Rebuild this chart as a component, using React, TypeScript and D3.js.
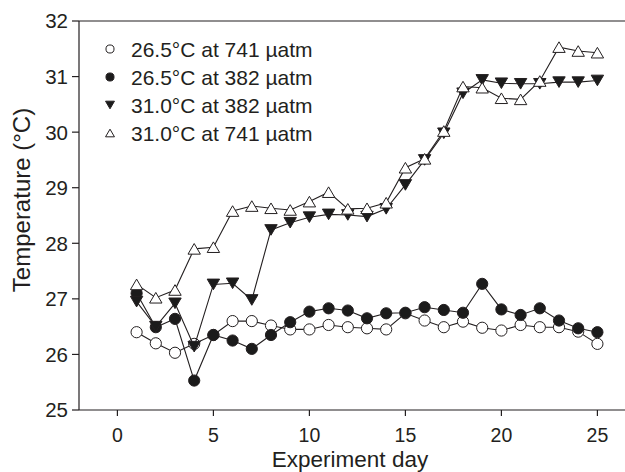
import React from "react";
import * as d3 from "d3";

const days = [1,2,3,4,5,6,7,8,9,10,11,12,13,14,15,16,17,18,19,20,21,22,23,24,25];
const openCircle = [26.40,26.20,26.03,26.19,26.35,26.60,26.60,26.52,26.45,26.45,26.53,26.49,26.47,26.45,26.74,26.61,26.49,26.59,26.48,26.43,26.53,26.49,26.49,26.41,26.19];
const filledCircle = [27.10,26.49,26.64,25.53,26.35,26.25,26.10,26.35,26.58,26.77,26.83,26.79,26.65,26.74,26.75,26.85,26.80,26.75,27.27,26.81,26.71,26.83,26.61,26.47,26.40];
const filledDown = [26.95,26.50,26.92,26.14,27.26,27.28,26.98,28.24,28.37,28.47,28.52,28.51,28.48,28.62,29.05,29.50,29.98,30.70,30.94,30.88,30.87,30.87,30.90,30.90,30.93];
const openUp = [27.26,27.02,27.16,27.90,27.93,28.58,28.67,28.63,28.60,28.75,28.92,28.62,28.63,28.73,29.36,29.52,30.02,30.82,30.80,30.61,30.59,30.92,31.53,31.46,31.43];
const seriesNames = ["26.5°C at 741 µatm","26.5°C at 382 µatm","31.0°C at 382 µatm","31.0°C at 741 µatm"];
const xTicks = [0,5,10,15,20,25];
const yTicks = [25,26,27,28,29,30,31,32];

const W = 625, H = 472;
const x = d3.scaleLinear().domain([-2, 26.5]).range([79, 626.2]);
const y = d3.scaleLinear().domain([25, 32]).range([410, 21]);
const INK = "#231f20";
const FILL = "#1b1b1b";
const FONT = "'Liberation Sans', Arial, Helvetica, sans-serif";

type Kind = "oc" | "fc" | "dn" | "up";

function Marker({ kind, cx, cy, s = 1 }: { kind: Kind; cx: number; cy: number; s?: number }) {
  if (kind === "oc" || kind === "fc") {
    return <circle cx={cx} cy={cy} r={5.6 * s} fill={kind === "fc" ? FILL : "#fff"} stroke={INK} strokeWidth={1} />;
  }
  const hw = 6.2 * s, hh = 5.3 * s;
  const p = kind === "up"
    ? `M${cx},${cy - hh}L${cx + hw},${cy + hh}L${cx - hw},${cy + hh}Z`
    : `M${cx},${cy + hh}L${cx + hw},${cy - hh}L${cx - hw},${cy - hh}Z`;
  return <path d={p} fill={kind === "dn" ? FILL : "#fff"} stroke={INK} strokeWidth={1} />;
}

const series: { kind: Kind; vals: number[] }[] = [
  { kind: "oc", vals: openCircle },
  { kind: "fc", vals: filledCircle },
  { kind: "dn", vals: filledDown },
  { kind: "up", vals: openUp },
];

export default function App() {
  const line = d3.line<number>().x((_, i) => x(days[i])).y((v) => y(v));
  return (
    <svg width={W} height={H} style={{ position: "absolute", left: 0, top: 0, background: "#fff" }} fontFamily={FONT}>
      <rect width={W} height={H} fill="#fff" />
      <line x1={79} x2={W} y1={21} y2={21} stroke={INK} strokeWidth={1.2} />
      <line x1={79} x2={W} y1={410} y2={410} stroke={INK} strokeWidth={1.2} />
      <line x1={79} x2={79} y1={21} y2={410} stroke={INK} strokeWidth={1.2} />
      {yTicks.map((t) => (
        <g key={"y" + t}>
          <line x1={72} x2={79} y1={y(t)} y2={y(t)} stroke={INK} strokeWidth={1.2} />
          <text x={68} y={y(t)} dy="0.36em" textAnchor="end" fontSize={20.5} fill={INK}>{t}</text>
        </g>
      ))}
      {xTicks.map((t) => (
        <g key={"x" + t}>
          <line x1={x(t)} x2={x(t)} y1={410} y2={416} stroke={INK} strokeWidth={1.2} />
          <text x={x(t)} y={442} textAnchor="middle" fontSize={19.5} fill={INK}>{t}</text>
        </g>
      ))}
      <text x={350} y={467} textAnchor="middle" fontSize={22.5} fill={INK}>Experiment day</text>
      <text transform={`translate(30,200) rotate(-90)`} textAnchor="middle" fontSize={24} fill={INK}>Temperature (°C)</text>
      {series.map((s) => (
        <g key={s.kind}>
          <path d={line(s.vals) || ""} fill="none" stroke={INK} strokeWidth={1.1} />
          {s.vals.map((v, i) => (
            <Marker key={i} kind={s.kind} cx={x(days[i])} cy={y(v)} />
          ))}
        </g>
      ))}
      {series.map((s, i) => (
        <g key={"lg" + i}>
          <Marker kind={s.kind} cx={110} cy={49 + i * 28} s={0.72} />
          <text x={131} y={49 + i * 28} dy="0.36em" fontSize={21} fill={INK}>{seriesNames[i]}</text>
        </g>
      ))}
    </svg>
  );
}
